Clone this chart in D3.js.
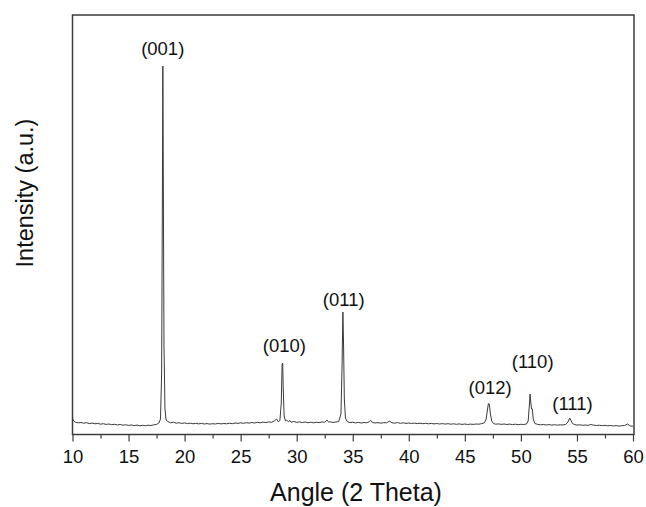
<!DOCTYPE html>
<html>
<head>
<meta charset="utf-8">
<style>
  body { margin: 0; background: #fff; }
  svg text { font-family: "Liberation Sans", Arial, sans-serif; fill: #111; }
</style>
</head>
<body>
<script src="https://d3js.org/d3.v7.min.js"></script>
<script>
// XRD pattern (2 theta in degrees, intensity in arbitrary counts)
var angles = [
  10.0,10.1,10.25,10.5,10.75,11.0,11.25,11.5,11.75,12.0,12.25,12.5,12.75,13.0,13.25,13.5,13.75,14.0,14.25,14.5,14.75,
  15.0,15.25,15.5,15.75,16.0,16.25,16.5,16.75,17.0,17.25,17.5,17.7,17.85,17.95,18.02,18.06,18.1,18.16,18.25,18.35,18.5,18.75,
  19.0,19.25,19.5,19.75,20.0,20.25,20.5,20.75,21.0,21.25,21.5,21.75,22.0,22.25,22.5,22.75,23.0,23.25,23.5,23.75,
  24.0,24.25,24.5,24.75,25.0,25.25,25.5,25.75,26.0,26.25,26.5,26.75,27.0,27.25,27.5,27.75,28.0,28.2,28.35,28.5,
  28.62,28.7,28.75,28.8,28.88,29.0,29.1,29.25,29.4,29.5,29.75,30.0,30.25,30.5,30.75,31.0,31.25,31.5,31.75,
  32.0,32.25,32.5,32.7,32.85,33.0,33.25,33.5,33.75,33.95,34.05,34.12,34.18,34.25,34.35,34.5,34.75,
  35.0,35.25,35.5,35.75,36.0,36.25,36.5,36.6,36.75,37.0,37.25,37.5,37.75,38.0,38.3,38.5,38.75,
  39.0,39.25,39.5,39.75,40.0,40.25,40.5,40.75,41.0,41.25,41.5,41.75,42.0,42.25,42.5,42.75,43.0,43.25,43.5,43.75,
  44.0,44.25,44.5,44.75,45.0,45.25,45.5,45.75,46.0,46.25,46.5,46.75,46.9,47.0,47.1,47.18,47.28,47.4,47.55,47.75,
  48.0,48.25,48.5,48.75,49.0,49.25,49.5,49.75,50.0,50.25,50.5,50.65,50.75,50.82,50.88,50.95,51.02,51.1,51.25,51.5,51.75,
  52.0,52.25,52.5,52.75,53.0,53.25,53.5,53.75,54.0,54.2,54.35,54.45,54.6,54.8,55.0,55.25,55.5,55.75,
  56.0,56.25,56.5,56.75,57.0,57.25,57.5,57.75,58.0,58.25,58.5,58.75,59.0,59.25,59.5,59.65,59.75,60.0
];
var counts = [
  160,130,118,112,115,108,113,104,109,102,106,98,103,96,100,93,97,90,95,88,92,
  86,90,84,89,82,87,83,88,85,91,96,110,150,600,2400,3680,2600,900,250,140,125,112,
  118,108,113,106,111,104,109,102,107,101,106,100,104,99,103,100,106,101,105,102,
  108,103,110,106,112,107,113,109,115,110,117,112,119,114,121,117,130,150,122,135,
  300,700,710,450,180,130,140,122,135,118,125,116,121,114,120,113,118,112,117,
  114,120,118,140,118,122,115,120,125,200,700,1220,900,350,160,125,113,
  118,111,116,110,115,112,124,136,116,110,114,108,113,112,128,112,109,
  114,107,112,106,110,105,109,104,108,103,107,102,106,101,105,100,104,99,103,98,
  102,97,101,96,100,95,99,96,100,98,104,112,150,230,305,300,200,130,105,98,
  101,96,100,95,99,94,98,93,97,95,100,130,280,400,320,250,250,150,105,96,92,
  95,90,94,89,93,88,92,90,96,120,160,140,105,94,89,92,87,90,
  86,95,88,85,88,83,87,82,85,80,84,79,83,85,100,90,80,78
];

// peak labels (Miller indices) and where they sit
var peakLabels = ["(001)", "(010)", "(011)", "(012)", "(110)", "(111)"];
var peakAngles = [18.05, 28.9, 34.2, 47.25, 51.05, 54.6];
var peakLabelHeights = [3790, 820, 1280, 400, 660, 240];

var xTicks = [10, 15, 20, 25, 30, 35, 40, 45, 50, 55, 60];
var xMinorTicks = [12.5, 17.5, 22.5, 27.5, 32.5, 37.5, 42.5, 47.5, 52.5, 57.5];

var W = 646, H = 507;
var plotLeft = 72.5, plotRight = 634, plotTop = 15, plotBottom = 434.5;

var svg = d3.select("body").append("svg")
    .attr("width", W)
    .attr("height", H);

var x = d3.scaleLinear().domain([10, 60]).range([plotLeft, 633]);
var y = d3.scaleLinear().domain([0, 4190]).range([434, plotTop]);

var data = angles.map(function(a, i) { return {a: a, c: counts[i]}; });

var line = d3.line()
    .x(function(d) { return x(d.a); })
    .y(function(d) { return y(d.c); });

svg.append("path")
    .datum(data)
    .attr("d", line)
    .attr("fill", "none")
    .attr("stroke", "#3a3a3a")
    .attr("stroke-width", 1)
    .attr("stroke-linejoin", "round");

// frame
svg.append("rect")
    .attr("x", plotLeft)
    .attr("y", plotTop)
    .attr("width", plotRight - plotLeft)
    .attr("height", plotBottom - plotTop)
    .attr("fill", "none")
    .attr("stroke", "#3c3c3c")
    .attr("stroke-width", 1.5);

// minor ticks
svg.append("g")
    .attr("transform", "translate(0," + plotBottom + ")")
    .call(d3.axisBottom(x).tickValues(xMinorTicks).tickSize(4).tickFormat(""))
    .call(function(g) {
        g.select(".domain").remove();
        g.selectAll("line").attr("stroke", "#3c3c3c").attr("stroke-width", 1.2);
    });

// major ticks + labels
svg.append("g")
    .attr("transform", "translate(0," + plotBottom + ")")
    .call(d3.axisBottom(x).tickValues(xTicks).tickSize(7).tickPadding(8).tickFormat(d3.format("d")))
    .call(function(g) {
        g.select(".domain").remove();
        g.selectAll("line").attr("stroke", "#3c3c3c").attr("stroke-width", 1.2);
        g.selectAll("text")
            .attr("font-size", "18.5px")
            .attr("font-family", "Liberation Sans, Arial, sans-serif")
            .attr("fill", "#111");
    });

// peak labels
svg.selectAll("text.peak")
    .data(peakLabels)
    .enter().append("text")
    .attr("class", "peak")
    .attr("x", function(d, i) { return x(peakAngles[i]); })
    .attr("y", function(d, i) { return y(peakLabelHeights[i]); })
    .attr("text-anchor", "middle")
    .attr("font-size", "18.5px")
    .text(function(d) { return d; });

// axis titles
svg.append("text")
    .attr("x", 356)
    .attr("y", 501)
    .attr("text-anchor", "middle")
    .attr("font-size", "25px")
    .text("Angle (2 Theta)");

svg.append("text")
    .attr("transform", "translate(33,193) rotate(-90)")
    .attr("text-anchor", "middle")
    .attr("font-size", "23.5px")
    .text("Intensity (a.u.)");
</script>
</body>
</html>
